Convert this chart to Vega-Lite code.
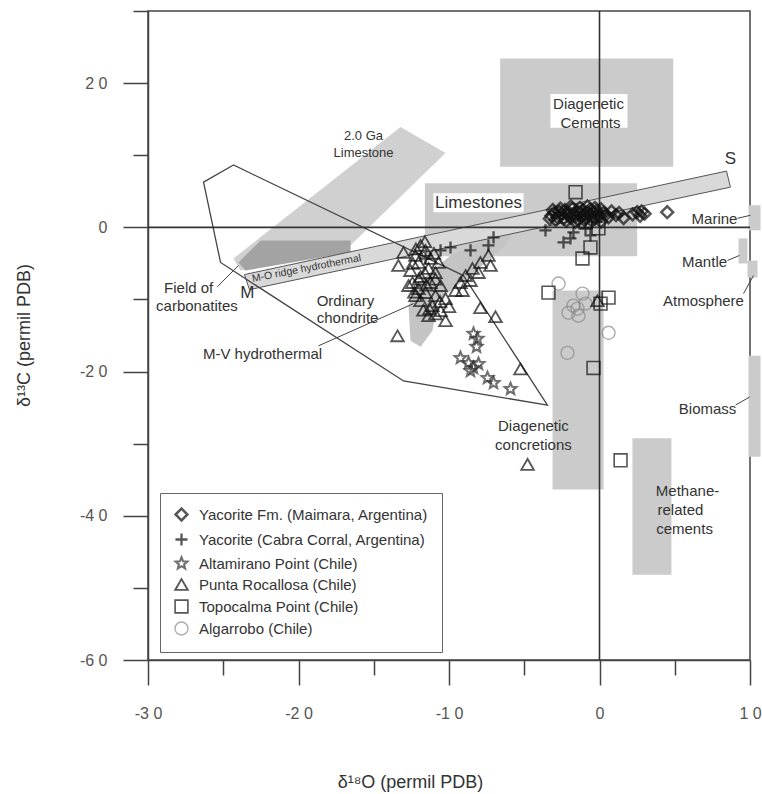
{
  "$schema": "https://vega.github.io/schema/vega-lite/v6.json",
  "width": 602,
  "height": 649,
  "autosize": {"type": "none"},
  "padding": {"left": 148, "top": 11, "right": 12, "bottom": 134},
  "background": "white",
  "config": {
    "font": "Liberation Sans",
    "view": {"stroke": "#444", "strokeWidth": 1.5}
  },
  "datasets": {
    "fields": [
      {"name": "Diagenetic Cements", "x": -6.6, "x2": 4.9, "y": 8.4, "y2": 23.4},
      {"name": "Limestones", "x": -11.6, "x2": 2.5, "y": -4.0, "y2": 6.1},
      {"name": "Diagenetic concretions", "x": -3.12, "x2": 0.27, "y": -36.35, "y2": -8.77},
      {"name": "Methane-related cements", "x": 2.19, "x2": 4.78, "y": -48.19, "y2": -29.25},
      {"name": "Marine", "x": 9.9, "x2": 10.7, "y": -0.42, "y2": 3.06},
      {"name": "Mantle", "x": 9.24, "x2": 9.83, "y": -5.01, "y2": -1.53},
      {"name": "Atmosphere", "x": 9.83, "x2": 10.5, "y": -6.96, "y2": -4.6},
      {"name": "Biomass", "x": 9.9, "x2": 10.7, "y": -31.8, "y2": -17.8}
    ],
    "labelbg": [
      {"name": "Diagenetic Cements", "x": -3.26, "x2": 1.86, "y": 13.8, "y2": 18.5},
      {"name": "Limestones", "x": -11.03, "x2": -5.05, "y": 2.09, "y2": 4.74}
    ],
    "polys": [
      {"poly": "arrow", "i": 0, "x": -24.32, "y": -4.32},
      {"poly": "arrow", "i": 1, "x": -13.22, "y": 13.93},
      {"poly": "arrow", "i": 2, "x": -10.23, "y": 10.31},
      {"poly": "arrow", "i": 3, "x": -16.9, "y": -3.2},
      {"poly": "arrow", "i": 4, "x": -23.85, "y": -5.99},
      {"poly": "carb", "i": 0, "x": -23.99, "y": -4.87},
      {"poly": "carb", "i": 1, "x": -22.52, "y": -1.81},
      {"poly": "carb", "i": 2, "x": -16.54, "y": -1.81},
      {"poly": "carb", "i": 3, "x": -16.54, "y": -3.48},
      {"poly": "carb", "i": 4, "x": -23.52, "y": -5.99},
      {"poly": "lens", "i": 0, "x": -5.78, "y": -0.7},
      {"poly": "lens", "i": 1, "x": -6.25, "y": -2.51},
      {"poly": "lens", "i": 2, "x": -8.57, "y": -6.69},
      {"poly": "lens", "i": 3, "x": -10.76, "y": -10.17},
      {"poly": "lens", "i": 4, "x": -11.1, "y": -14.35},
      {"poly": "lens", "i": 5, "x": -11.89, "y": -16.57},
      {"poly": "lens", "i": 6, "x": -12.56, "y": -15.74},
      {"poly": "lens", "i": 7, "x": -12.69, "y": -10.86},
      {"poly": "lens", "i": 8, "x": -11.89, "y": -7.38},
      {"poly": "lens", "i": 9, "x": -9.9, "y": -3.9},
      {"poly": "lens", "i": 10, "x": -7.24, "y": -1.25},
      {"poly": "band", "i": 0, "x": -23.59, "y": -6.55},
      {"poly": "band", "i": 1, "x": 8.44, "y": 7.8},
      {"poly": "band", "i": 2, "x": 8.7, "y": 5.57},
      {"poly": "band", "i": 3, "x": -23.26, "y": -8.64},
      {"poly": "outline", "i": 0, "x": -24.32, "y": 8.64},
      {"poly": "outline", "i": 1, "x": -26.31, "y": 6.27},
      {"poly": "outline", "i": 2, "x": -25.18, "y": -4.87},
      {"poly": "outline", "i": 3, "x": -13.02, "y": -21.31},
      {"poly": "outline", "i": 4, "x": -3.46, "y": -24.65},
      {"poly": "outline", "i": 5, "x": -9.04, "y": -6.69}
    ],
    "leaders": [
      {"x": -25.38, "y": -8.22, "x2": -23.99, "y2": -5.29},
      {"x": -18.67, "y": -16.43, "x2": -12.36, "y2": -10.58},
      {"x": 9.17, "y": 1.25, "x2": 10.03, "y2": 1.67},
      {"x": 8.5, "y": -4.6, "x2": 9.3, "y2": -3.9},
      {"x": 9.57, "y": -9.19, "x2": 10.23, "y2": -6.69},
      {"x": 9.04, "y": -24.65, "x2": 9.97, "y2": -23.54}
    ],
    "zeros": [
      {"x": -30, "y": 0, "x2": 10, "y2": 0},
      {"x": 0, "y": -60, "x2": 0, "y2": 30}
    ],
    "labels": [
      {"label": "Diagenetic", "x": -0.73, "y": 17.13},
      {"label": "Cements", "x": -0.6, "y": 14.48},
      {"label": "Marine", "x": 7.64, "y": 1.11},
      {"label": "Mantle", "x": 6.98, "y": -4.74},
      {"label": "Atmosphere", "x": 6.91, "y": -10.17},
      {"label": "Biomass", "x": 7.18, "y": -25.2},
      {"label": "Diagenetic", "x": -4.39, "y": -27.58},
      {"label": "concretions", "x": -4.39, "y": -30.22},
      {"label": "Methane-", "x": 5.85, "y": -36.63},
      {"label": "related", "x": 5.38, "y": -39.14},
      {"label": "cements", "x": 5.65, "y": -41.78},
      {"label": "Field of", "x": -27.3, "y": -8.36},
      {"label": "carbonatites", "x": -26.75, "y": -10.86},
      {"label": "Ordinary", "x": -16.88, "y": -10.17},
      {"label": "chondrite", "x": -16.74, "y": -12.53},
      {"label": "M-V hydrothermal", "x": -22.39, "y": -17.55}
    ],
    "smalllabels": [
      {"label": "2.0 Ga", "x": -15.68, "y": 12.7},
      {"label": "Limestone", "x": -15.68, "y": 10.35}
    ],
    "biglabels": [
      {"label": "Limestones", "x": -8.04, "y": 3.34},
      {"label": "S", "x": 8.7, "y": 9.47},
      {"label": "M", "x": -23.4, "y": -9.05}
    ],
    "bandlabel": [
      {"label": "M-O ridge hydrothermal", "x": -19.47, "y": -5.71}
    ],
    "points": [
      {"s": "Algarrobo (Chile)", "x": -2.72, "y": -7.8},
      {"s": "Algarrobo (Chile)", "x": -1.13, "y": -9.19},
      {"s": "Algarrobo (Chile)", "x": -1.73, "y": -10.86},
      {"s": "Algarrobo (Chile)", "x": -2.06, "y": -11.84},
      {"s": "Algarrobo (Chile)", "x": -1.4, "y": -12.26},
      {"s": "Algarrobo (Chile)", "x": -0.93, "y": -10.58},
      {"s": "Algarrobo (Chile)", "x": -1.46, "y": -11.28},
      {"s": "Algarrobo (Chile)", "x": 0.6, "y": -14.62},
      {"s": "Algarrobo (Chile)", "x": -2.13, "y": -17.41},
      {"s": "Altamirano Point (Chile)", "x": -8.37, "y": -14.76},
      {"s": "Altamirano Point (Chile)", "x": -8.11, "y": -15.46},
      {"s": "Altamirano Point (Chile)", "x": -8.17, "y": -16.57},
      {"s": "Altamirano Point (Chile)", "x": -9.24, "y": -18.11},
      {"s": "Altamirano Point (Chile)", "x": -8.7, "y": -18.8},
      {"s": "Altamirano Point (Chile)", "x": -8.37, "y": -19.5},
      {"s": "Altamirano Point (Chile)", "x": -8.04, "y": -18.94},
      {"s": "Altamirano Point (Chile)", "x": -8.57, "y": -19.92},
      {"s": "Altamirano Point (Chile)", "x": -7.44, "y": -20.89},
      {"s": "Altamirano Point (Chile)", "x": -7.04, "y": -21.59},
      {"s": "Altamirano Point (Chile)", "x": -5.91, "y": -22.42},
      {"s": "Punta Rocallosa (Chile)", "x": -11.89, "y": -2.51},
      {"s": "Punta Rocallosa (Chile)", "x": -11.56, "y": -3.2},
      {"s": "Punta Rocallosa (Chile)", "x": -12.23, "y": -3.9},
      {"s": "Punta Rocallosa (Chile)", "x": -11.23, "y": -4.32},
      {"s": "Punta Rocallosa (Chile)", "x": -12.03, "y": -4.87},
      {"s": "Punta Rocallosa (Chile)", "x": -11.36, "y": -5.71},
      {"s": "Punta Rocallosa (Chile)", "x": -12.56, "y": -5.99},
      {"s": "Punta Rocallosa (Chile)", "x": -10.9, "y": -6.27},
      {"s": "Punta Rocallosa (Chile)", "x": -11.89, "y": -6.82},
      {"s": "Punta Rocallosa (Chile)", "x": -12.43, "y": -7.66},
      {"s": "Punta Rocallosa (Chile)", "x": -11.23, "y": -7.66},
      {"s": "Punta Rocallosa (Chile)", "x": -10.56, "y": -8.08},
      {"s": "Punta Rocallosa (Chile)", "x": -12.03, "y": -8.5},
      {"s": "Punta Rocallosa (Chile)", "x": -11.56, "y": -9.05},
      {"s": "Punta Rocallosa (Chile)", "x": -10.9, "y": -9.47},
      {"s": "Punta Rocallosa (Chile)", "x": -10.23, "y": -9.89},
      {"s": "Punta Rocallosa (Chile)", "x": -11.89, "y": -10.17},
      {"s": "Punta Rocallosa (Chile)", "x": -11.1, "y": -10.86},
      {"s": "Punta Rocallosa (Chile)", "x": -10.56, "y": -11.56},
      {"s": "Punta Rocallosa (Chile)", "x": -11.36, "y": -12.26},
      {"s": "Punta Rocallosa (Chile)", "x": -10.23, "y": -12.95},
      {"s": "Punta Rocallosa (Chile)", "x": -12.23, "y": -9.47},
      {"s": "Punta Rocallosa (Chile)", "x": -12.69, "y": -8.08},
      {"s": "Punta Rocallosa (Chile)", "x": -10.7, "y": -4.87},
      {"s": "Punta Rocallosa (Chile)", "x": -11.6, "y": -2.0},
      {"s": "Punta Rocallosa (Chile)", "x": -12.2, "y": -3.0},
      {"s": "Punta Rocallosa (Chile)", "x": -11.0, "y": -3.6},
      {"s": "Punta Rocallosa (Chile)", "x": -12.4, "y": -5.0},
      {"s": "Punta Rocallosa (Chile)", "x": -11.6, "y": -6.3},
      {"s": "Punta Rocallosa (Chile)", "x": -12.0, "y": -7.2},
      {"s": "Punta Rocallosa (Chile)", "x": -10.9, "y": -7.2},
      {"s": "Punta Rocallosa (Chile)", "x": -11.5, "y": -8.0},
      {"s": "Punta Rocallosa (Chile)", "x": -12.3, "y": -9.0},
      {"s": "Punta Rocallosa (Chile)", "x": -10.6, "y": -10.3},
      {"s": "Punta Rocallosa (Chile)", "x": -11.3, "y": -11.3},
      {"s": "Punta Rocallosa (Chile)", "x": -10.9, "y": -12.0},
      {"s": "Punta Rocallosa (Chile)", "x": -11.7, "y": -11.5},
      {"s": "Punta Rocallosa (Chile)", "x": -10.0, "y": -11.0},
      {"s": "Punta Rocallosa (Chile)", "x": -7.38, "y": -3.9},
      {"s": "Punta Rocallosa (Chile)", "x": -7.91, "y": -4.87},
      {"s": "Punta Rocallosa (Chile)", "x": -8.44, "y": -5.71},
      {"s": "Punta Rocallosa (Chile)", "x": -8.9, "y": -6.69},
      {"s": "Punta Rocallosa (Chile)", "x": -9.24, "y": -7.66},
      {"s": "Punta Rocallosa (Chile)", "x": -9.57, "y": -8.77},
      {"s": "Punta Rocallosa (Chile)", "x": -7.24, "y": -5.29},
      {"s": "Punta Rocallosa (Chile)", "x": -8.04, "y": -6.27},
      {"s": "Punta Rocallosa (Chile)", "x": -8.57, "y": -7.38},
      {"s": "Punta Rocallosa (Chile)", "x": -9.1, "y": -8.77},
      {"s": "Punta Rocallosa (Chile)", "x": -13.36, "y": -5.29},
      {"s": "Punta Rocallosa (Chile)", "x": -13.02, "y": -3.48},
      {"s": "Punta Rocallosa (Chile)", "x": -7.91, "y": -11.14},
      {"s": "Punta Rocallosa (Chile)", "x": -6.91, "y": -12.4},
      {"s": "Punta Rocallosa (Chile)", "x": -13.42, "y": -15.04},
      {"s": "Punta Rocallosa (Chile)", "x": -5.25, "y": -19.64},
      {"s": "Punta Rocallosa (Chile)", "x": -4.78, "y": -32.87},
      {"s": "Punta Rocallosa (Chile)", "x": -0.13, "y": -10.17},
      {"s": "Yacorite (Cabra Corral, Argentina)", "x": -9.9, "y": -2.79},
      {"s": "Yacorite (Cabra Corral, Argentina)", "x": -10.56, "y": -3.2},
      {"s": "Yacorite (Cabra Corral, Argentina)", "x": -7.04, "y": -1.39},
      {"s": "Yacorite (Cabra Corral, Argentina)", "x": -7.38, "y": -2.51},
      {"s": "Yacorite (Cabra Corral, Argentina)", "x": -8.57, "y": -3.2},
      {"s": "Yacorite (Cabra Corral, Argentina)", "x": -11.56, "y": -4.32},
      {"s": "Yacorite (Cabra Corral, Argentina)", "x": -3.59, "y": -0.42},
      {"s": "Yacorite (Cabra Corral, Argentina)", "x": -2.39, "y": -2.09},
      {"s": "Yacorite (Cabra Corral, Argentina)", "x": -1.73, "y": -0.7},
      {"s": "Yacorite (Cabra Corral, Argentina)", "x": -1.93, "y": -1.53},
      {"s": "Yacorite (Cabra Corral, Argentina)", "x": -0.93, "y": -0.14},
      {"s": "Yacorite (Cabra Corral, Argentina)", "x": -0.6, "y": -1.11},
      {"s": "Topocalma Point (Chile)", "x": -1.59, "y": 4.87},
      {"s": "Topocalma Point (Chile)", "x": -0.07, "y": -0.14},
      {"s": "Topocalma Point (Chile)", "x": -0.6, "y": -2.79},
      {"s": "Topocalma Point (Chile)", "x": -1.13, "y": -4.32},
      {"s": "Topocalma Point (Chile)", "x": -3.39, "y": -9.05},
      {"s": "Topocalma Point (Chile)", "x": 0.6, "y": -9.75},
      {"s": "Topocalma Point (Chile)", "x": 0.07, "y": -10.58},
      {"s": "Topocalma Point (Chile)", "x": -0.4, "y": -19.5},
      {"s": "Topocalma Point (Chile)", "x": 1.4, "y": -32.31},
      {"s": "Topocalma Point (Chile)", "x": -0.93, "y": 0.7},
      {"s": "Yacorite Fm. (Maimara, Argentina)", "x": -3.2, "y": 1.6},
      {"s": "Yacorite Fm. (Maimara, Argentina)", "x": -3.0, "y": 2.0},
      {"s": "Yacorite Fm. (Maimara, Argentina)", "x": -2.8, "y": 1.4},
      {"s": "Yacorite Fm. (Maimara, Argentina)", "x": -2.7, "y": 2.2},
      {"s": "Yacorite Fm. (Maimara, Argentina)", "x": -2.5, "y": 1.8},
      {"s": "Yacorite Fm. (Maimara, Argentina)", "x": -2.4, "y": 1.2},
      {"s": "Yacorite Fm. (Maimara, Argentina)", "x": -2.3, "y": 2.4},
      {"s": "Yacorite Fm. (Maimara, Argentina)", "x": -2.1, "y": 1.7},
      {"s": "Yacorite Fm. (Maimara, Argentina)", "x": -2.0, "y": 2.0},
      {"s": "Yacorite Fm. (Maimara, Argentina)", "x": -1.9, "y": 1.3},
      {"s": "Yacorite Fm. (Maimara, Argentina)", "x": -1.8, "y": 2.6},
      {"s": "Yacorite Fm. (Maimara, Argentina)", "x": -1.7, "y": 1.9},
      {"s": "Yacorite Fm. (Maimara, Argentina)", "x": -1.6, "y": 1.5},
      {"s": "Yacorite Fm. (Maimara, Argentina)", "x": -1.5, "y": 2.2},
      {"s": "Yacorite Fm. (Maimara, Argentina)", "x": -1.4, "y": 1.0},
      {"s": "Yacorite Fm. (Maimara, Argentina)", "x": -1.3, "y": 2.0},
      {"s": "Yacorite Fm. (Maimara, Argentina)", "x": -1.2, "y": 1.6},
      {"s": "Yacorite Fm. (Maimara, Argentina)", "x": -1.1, "y": 2.4},
      {"s": "Yacorite Fm. (Maimara, Argentina)", "x": -1.0, "y": 1.8},
      {"s": "Yacorite Fm. (Maimara, Argentina)", "x": -0.9, "y": 1.3},
      {"s": "Yacorite Fm. (Maimara, Argentina)", "x": -0.8, "y": 2.1},
      {"s": "Yacorite Fm. (Maimara, Argentina)", "x": -0.7, "y": 1.7},
      {"s": "Yacorite Fm. (Maimara, Argentina)", "x": -0.6, "y": 2.5},
      {"s": "Yacorite Fm. (Maimara, Argentina)", "x": -0.5, "y": 1.5},
      {"s": "Yacorite Fm. (Maimara, Argentina)", "x": -0.4, "y": 2.0},
      {"s": "Yacorite Fm. (Maimara, Argentina)", "x": -0.3, "y": 1.2},
      {"s": "Yacorite Fm. (Maimara, Argentina)", "x": -0.2, "y": 2.3},
      {"s": "Yacorite Fm. (Maimara, Argentina)", "x": -0.1, "y": 1.8},
      {"s": "Yacorite Fm. (Maimara, Argentina)", "x": 0.0, "y": 1.5},
      {"s": "Yacorite Fm. (Maimara, Argentina)", "x": 0.3, "y": 2.0},
      {"s": "Yacorite Fm. (Maimara, Argentina)", "x": 0.6, "y": 1.4},
      {"s": "Yacorite Fm. (Maimara, Argentina)", "x": 1.1, "y": 1.7},
      {"s": "Yacorite Fm. (Maimara, Argentina)", "x": 1.6, "y": 1.3},
      {"s": "Yacorite Fm. (Maimara, Argentina)", "x": 2.5, "y": 2.1},
      {"s": "Yacorite Fm. (Maimara, Argentina)", "x": 2.7, "y": 1.6},
      {"s": "Yacorite Fm. (Maimara, Argentina)", "x": 3.0, "y": 1.9},
      {"s": "Yacorite Fm. (Maimara, Argentina)", "x": 4.5, "y": 2.1},
      {"s": "Yacorite Fm. (Maimara, Argentina)", "x": -3.3, "y": 1.2},
      {"s": "Yacorite Fm. (Maimara, Argentina)", "x": -3.1, "y": 2.4},
      {"s": "Yacorite Fm. (Maimara, Argentina)", "x": -2.9, "y": 1.0},
      {"s": "Yacorite Fm. (Maimara, Argentina)", "x": -2.6, "y": 2.6},
      {"s": "Yacorite Fm. (Maimara, Argentina)", "x": -2.2, "y": 0.9},
      {"s": "Yacorite Fm. (Maimara, Argentina)", "x": -2.2, "y": 2.0},
      {"s": "Yacorite Fm. (Maimara, Argentina)", "x": -1.9, "y": 2.9},
      {"s": "Yacorite Fm. (Maimara, Argentina)", "x": -1.6, "y": 0.8},
      {"s": "Yacorite Fm. (Maimara, Argentina)", "x": -1.3, "y": 2.7},
      {"s": "Yacorite Fm. (Maimara, Argentina)", "x": -1.0, "y": 1.0},
      {"s": "Yacorite Fm. (Maimara, Argentina)", "x": -0.8, "y": 2.9},
      {"s": "Yacorite Fm. (Maimara, Argentina)", "x": -0.5, "y": 0.9},
      {"s": "Yacorite Fm. (Maimara, Argentina)", "x": -0.3, "y": 2.7},
      {"s": "Yacorite Fm. (Maimara, Argentina)", "x": 0.1, "y": 2.5},
      {"s": "Yacorite Fm. (Maimara, Argentina)", "x": 0.1, "y": 0.8},
      {"s": "Yacorite Fm. (Maimara, Argentina)", "x": 0.4, "y": 1.7},
      {"s": "Yacorite Fm. (Maimara, Argentina)", "x": 0.8, "y": 2.2},
      {"s": "Yacorite Fm. (Maimara, Argentina)", "x": 1.3, "y": 2.0},
      {"s": "Yacorite Fm. (Maimara, Argentina)", "x": 2.2, "y": 1.8},
      {"s": "Yacorite Fm. (Maimara, Argentina)", "x": 2.8, "y": 2.2}
    ]
  },
  "encoding": {
    "x": {
      "field": "x", "type": "quantitative",
      "scale": {"domain": [-30, 10], "nice": false, "zero": false},
      "axis": {
        "title": "δ¹⁸O (permil PDB)",
        "values": [-30, -25, -20, -15, -10, -5, 0, 5, 10],
        "tickSize": {"condition": {"test": "datum.value % 10 === 0", "value": 25}, "value": 15},
        "labelExpr": "datum.value % 10 === 0 ? (datum.value === 0 ? '0' : (datum.value < 0 ? '-' : '') + (abs(datum.value) / 10) + ' 0') : ''",
        "grid": false,
        "domainColor": "#444", "domainWidth": 1.5,
        "tickColor": "#444", "tickWidth": 1.5,
        "labelFont": "Liberation Sans", "labelFontSize": 16, "labelColor": "#555",
        "labelPadding": 20, "labelFlush": false, "labelOverlap": false,
        "titleFont": "Liberation Sans", "titleFontSize": 18, "titleFontWeight": "normal", "titleColor": "#333",
        "titleX": 262, "titleY": 113, "titleAlign": "center", "titleBaseline": "top"
      }
    },
    "y": {
      "field": "y", "type": "quantitative",
      "scale": {"domain": [-60, 30], "nice": false, "zero": false},
      "axis": {
        "title": "δ¹³C (permil PDB)",
        "values": [-60, -50, -40, -30, -20, -10, 0, 10, 20, 30],
        "tickSize": {"condition": {"test": "datum.value % 20 === 0", "value": 25}, "value": 15},
        "labelExpr": "datum.value % 20 === 0 ? (datum.value === 0 ? '0' : (datum.value < 0 ? '-' : '') + (abs(datum.value) / 10) + ' 0') : ''",
        "grid": false,
        "domainColor": "#444", "domainWidth": 1.5,
        "tickColor": "#444", "tickWidth": 1.5,
        "labelFont": "Liberation Sans", "labelFontSize": 16, "labelColor": "#555",
        "labelPadding": 16, "labelFlush": false, "labelOverlap": false,
        "titleFont": "Liberation Sans", "titleFontSize": 18, "titleFontWeight": "normal", "titleColor": "#333",
        "titleX": -115, "titleY": 324, "titleAngle": -90, "titleAlign": "center", "titleBaseline": "bottom"
      }
    }
  },
  "layer": [
    {
      "data": {"name": "fields"},
      "mark": {"type": "rect", "fill": "#cbcbcb"},
      "encoding": {"x2": {"field": "x2"}, "y2": {"field": "y2"}}
    },
    {
      "data": {"name": "polys"},
      "transform": [{"filter": "datum.poly === 'arrow'"}],
      "mark": {"type": "line", "fill": "#d0d0d0", "strokeOpacity": 0, "interpolate": "linear-closed"},
      "encoding": {"order": {"field": "i", "type": "quantitative"}}
    },
    {
      "data": {"name": "polys"},
      "transform": [{"filter": "datum.poly === 'carb'"}],
      "mark": {"type": "line", "fill": "#a3a3a3", "strokeOpacity": 0, "interpolate": "linear-closed"},
      "encoding": {"order": {"field": "i", "type": "quantitative"}}
    },
    {
      "data": {"name": "polys"},
      "transform": [{"filter": "datum.poly === 'lens'"}],
      "mark": {"type": "line", "fill": "#c4c4c4", "strokeOpacity": 0, "interpolate": "linear-closed"},
      "encoding": {"order": {"field": "i", "type": "quantitative"}}
    },
    {
      "data": {"name": "polys"},
      "transform": [{"filter": "datum.poly === 'band'"}],
      "mark": {"type": "line", "fill": "#d9d9d9", "stroke": "#555", "strokeWidth": 1, "interpolate": "linear-closed"},
      "encoding": {"order": {"field": "i", "type": "quantitative"}}
    },
    {
      "data": {"name": "polys"},
      "transform": [{"filter": "datum.poly === 'outline'"}],
      "mark": {"type": "line", "stroke": "#444", "strokeWidth": 1.3, "interpolate": "linear-closed"},
      "encoding": {"order": {"field": "i", "type": "quantitative"}}
    },
    {
      "data": {"name": "labelbg"},
      "mark": {"type": "rect", "fill": "white"},
      "encoding": {"x2": {"field": "x2"}, "y2": {"field": "y2"}}
    },
    {
      "data": {"name": "leaders"},
      "mark": {"type": "rule", "stroke": "#444", "strokeWidth": 1},
      "encoding": {"x2": {"field": "x2"}, "y2": {"field": "y2"}}
    },
    {
      "data": {"name": "zeros"},
      "mark": {"type": "rule", "stroke": "#333", "strokeWidth": 1.6},
      "encoding": {"x2": {"field": "x2"}, "y2": {"field": "y2"}}
    },
    {
      "data": {"name": "points"},
      "mark": {"type": "point", "filled": false},
      "encoding": {
        "shape": {
          "field": "s", "type": "nominal",
          "scale": {
            "domain": ["Yacorite Fm. (Maimara, Argentina)", "Yacorite (Cabra Corral, Argentina)", "Altamirano Point (Chile)", "Punta Rocallosa (Chile)", "Topocalma Point (Chile)", "Algarrobo (Chile)"],
            "range": ["diamond", "M-1,0L1,0M0,-1L0,1", "M0,-1L0.26,-0.36L0.951,-0.309L0.42,0.137L0.588,0.809L0,0.44L-0.588,0.809L-0.42,0.137L-0.951,-0.309L-0.26,-0.36Z", "triangle-up", "square", "circle"]
          },
          "legend": {
            "orient": "none", "legendX": 12, "legendY": 482,
            "title": null,
            "strokeColor": "#666", "fillColor": "white",
            "padding": 14,
            "labelFont": "Liberation Sans", "labelFontSize": 15, "labelColor": "#333",
            "labelLimit": 400,
            "labelOffset": 10, "rowPadding": 2
          }
        },
        "stroke": {
          "field": "s", "type": "nominal",
          "scale": {
            "domain": ["Yacorite Fm. (Maimara, Argentina)", "Yacorite (Cabra Corral, Argentina)", "Altamirano Point (Chile)", "Punta Rocallosa (Chile)", "Topocalma Point (Chile)", "Algarrobo (Chile)"],
            "range": ["#111111", "#111111", "#333333", "#111111", "#111111", "#8a8a8a"]
          }
        },
        "strokeWidth": {
          "field": "s", "type": "nominal",
          "scale": {
            "domain": ["Yacorite Fm. (Maimara, Argentina)", "Yacorite (Cabra Corral, Argentina)", "Altamirano Point (Chile)", "Punta Rocallosa (Chile)", "Topocalma Point (Chile)", "Algarrobo (Chile)"],
            "range": [2.5, 1.4, 1.2, 2.2, 3, 1.2]
          }
        },
        "size": {
          "field": "s", "type": "nominal",
          "scale": {
            "domain": ["Yacorite Fm. (Maimara, Argentina)", "Yacorite (Cabra Corral, Argentina)", "Altamirano Point (Chile)", "Punta Rocallosa (Chile)", "Topocalma Point (Chile)", "Algarrobo (Chile)"],
            "range": [140, 170, 190, 125, 100, 190]
          }
        }
      }
    },
    {
      "data": {"name": "labels"},
      "mark": {"type": "text", "font": "Liberation Sans", "fontSize": 15, "fill": "#333", "align": "center", "baseline": "middle"},
      "encoding": {"text": {"field": "label"}}
    },
    {
      "data": {"name": "smalllabels"},
      "mark": {"type": "text", "font": "Liberation Sans", "fontSize": 13, "fill": "#333", "align": "center", "baseline": "middle"},
      "encoding": {"text": {"field": "label"}}
    },
    {
      "data": {"name": "biglabels"},
      "mark": {"type": "text", "font": "Liberation Sans", "fontSize": 17, "fill": "#333", "align": "center", "baseline": "middle"},
      "encoding": {"text": {"field": "label"}}
    },
    {
      "data": {"name": "bandlabel"},
      "mark": {"type": "text", "font": "Liberation Sans", "fontSize": 10.5, "fill": "#333", "align": "center", "baseline": "middle", "angle": -11},
      "encoding": {"text": {"field": "label"}}
    }
  ]
}
